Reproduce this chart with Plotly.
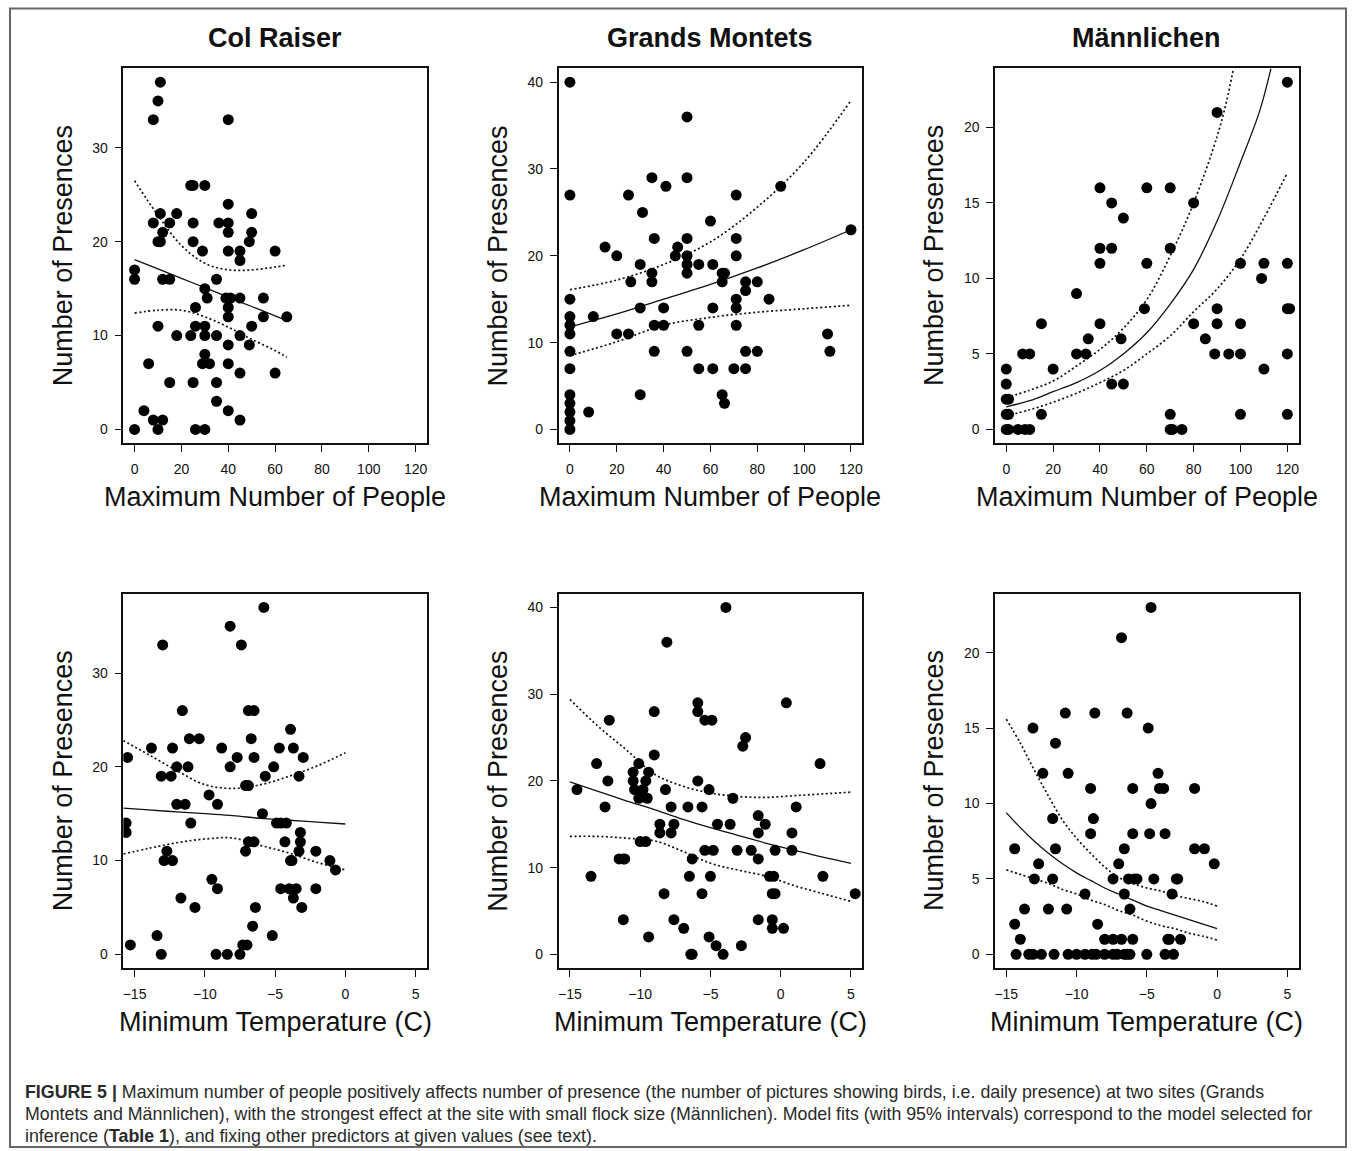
import plotly.graph_objects as go

W, H = 1355, 1151

# ---------------- data ----------------
sites = ["Col Raiser", "Grands Montets", "Männlichen"]
x_label_top = "Maximum Number of People"
x_label_bottom = "Minimum Temperature (C)"
y_label = "Number of Presences"

people_ticks = [0, 20, 40, 60, 80, 100, 120]
temp_ticks = [-15, -10, -5, 0, 5]
cr_yticks = [0, 10, 20, 30]
gm_yticks = [0, 10, 20, 30, 40]
ma_yticks = [0, 5, 10, 15, 20]

# Col Raiser ~ people
cr_people_x = [0, 0, 0, 4, 6, 8, 10, 11, 8, 11,
               10, 11, 12, 15, 18, 10, 8, 12, 10, 12,
               15, 15, 18, 24, 25, 30, 25, 25, 29, 30,
               31, 26, 26, 30, 24, 30, 35, 30, 29, 32,
               25, 35, 35, 26, 30, 35, 36, 40, 40, 40,
               40, 40, 39, 41, 40, 40, 40, 40, 40, 45,
               45, 45, 45, 45, 45, 50, 50, 49, 50, 49,
               55, 55, 60, 60, 65]
cr_people_y = [0, 17, 16, 2, 7, 33, 35, 37, 22, 23,
               20, 20, 21, 22, 23, 11, 1, 1, 0, 16,
               16, 5, 10, 26, 26, 26, 22, 20, 19, 15,
               14, 13, 11, 11, 10, 10, 10, 8, 7, 7,
               5, 5, 3, 0, 0, 16, 22, 33, 24, 22,
               21, 19, 14, 14, 13, 12, 9, 7, 2, 19,
               18, 14, 10, 6, 1, 23, 21, 20, 11, 9,
               14, 12, 19, 6, 12]
cr_people_fit_x = [0, 10, 20, 30, 40, 50, 60, 65]
cr_people_fit = [18.1, 17.1, 16.1, 15.1, 14.1, 13.1, 12.1, 11.6]
cr_people_hi = [26.5, 22.8, 19.6, 17.7, 17.0, 17.0, 17.3, 17.5]
cr_people_lo = [12.4, 12.7, 12.7, 12.0, 10.9, 9.6, 8.4, 7.7]

# Grands Montets ~ people
gm_people_x = [0, 0, 0, 0, 0, 0, 0, 0, 0, 0,
               0, 0, 0, 8, 10, 15, 20, 20, 25, 25,
               26, 30, 31, 30, 30, 35, 36, 35, 35, 36,
               36, 41, 40, 40, 46, 45, 50, 50, 50, 50,
               50, 50, 50, 55, 55, 55, 60, 61, 61, 61,
               65, 66, 65, 65, 66, 71, 71, 71, 71, 71,
               71, 70, 75, 75, 75, 75, 80, 80, 85, 90,
               110, 111, 120]
gm_people_y = [40, 27, 15, 13, 12, 11, 9, 7, 4, 3,
               2, 1, 0, 2, 13, 21, 20, 11, 11, 27,
               17, 14, 25, 19, 4, 29, 22, 18, 17, 12,
               9, 28, 14, 12, 21, 20, 36, 29, 22, 20,
               19, 18, 9, 19, 12, 7, 24, 19, 14, 7,
               18, 18, 17, 4, 3, 27, 22, 20, 15, 14,
               12, 7, 17, 16, 9, 7, 17, 9, 15, 28,
               11, 9, 23]
gm_people_fit_x = [0, 20, 40, 60, 80, 100, 120]
gm_people_fit = [11.8, 13.3, 15.0, 16.7, 18.6, 20.7, 23.0]
gm_people_hi = [16.1, 17.2, 19.0, 21.6, 25.6, 30.8, 37.9]
gm_people_lo = [8.5, 10.1, 12.0, 12.9, 13.5, 13.9, 14.3]

# Männlichen ~ people
ma_people_x = [0, 1, 0, 1, 0, 1, 0, 0, 5, 8,
               10, 7, 10, 15, 15, 20, 30, 30, 35, 34,
               40, 40, 40, 40, 45, 45, 45, 50, 49, 50,
               60, 60, 59, 70, 70, 70, 70, 71, 75, 80,
               80, 85, 90, 90, 90, 89, 95, 100, 100, 100,
               100, 110, 109, 110, 120, 120, 120, 121, 120, 120]
ma_people_y = [0, 0, 1, 1, 2, 2, 3, 4, 0, 0,
               0, 5, 5, 1, 7, 4, 9, 5, 6, 5,
               16, 12, 11, 7, 15, 12, 3, 14, 6, 3,
               16, 11, 8, 16, 12, 1, 0, 0, 0, 15,
               7, 6, 21, 8, 7, 5, 5, 11, 7, 5,
               1, 11, 10, 4, 23, 11, 8, 8, 5, 1]
ma_people_fit_x = [0, 10, 20, 30, 40, 50, 60, 70, 80, 90, 100, 108, 113]
ma_people_fit = [1.5, 1.9, 2.5, 3.1, 3.9, 5.0, 6.4, 8.3, 10.6, 13.8, 17.7, 21.0, 23.9]
ma_people_hi_x = [0, 10, 20, 30, 40, 50, 60, 70, 80, 90, 94, 97]
ma_people_hi = [2.1, 2.6, 3.2, 4.2, 5.3, 6.7, 8.6, 11.5, 15.0, 19.4, 21.7, 23.9]
ma_people_lo_x = [0, 10, 20, 30, 40, 50, 60, 70, 80, 90, 100, 110, 120]
ma_people_lo = [0.9, 1.3, 1.8, 2.4, 3.1, 3.9, 5.0, 6.2, 7.8, 9.3, 11.3, 14.0, 17.0]

# Col Raiser ~ temperature
cr_temp_x = [-15.5, -15.6, -15.6, -15.3, -13.8, -13.4, -13.1, -13.0, -13.1, -12.4,
             -12.7, -12.9, -12.3, -12.3, -12.0, -12.0, -11.4, -11.7, -11.6, -11.1,
             -11.2, -11.0, -10.7, -10.4, -9.7, -9.5, -9.1, -9.1, -9.2, -8.8,
             -8.4, -8.2, -8.2, -7.7, -7.4, -7.5, -7.3, -7.0, -7.1, -6.9,
             -7.1, -6.9, -6.5, -6.9, -6.5, -6.7, -6.5, -6.6, -6.4, -5.8,
             -5.9, -5.7, -5.2, -5.1, -4.7, -4.9, -4.6, -4.2, -4.6, -4.0,
             -3.5, -4.3, -3.9, -3.9, -3.8, -3.7, -3.7, -3.3, -3.3, -3.2,
             -3.2, -3.1, -3.0, -2.1, -2.1, -1.1, -0.7]
cr_temp_y = [21, 14, 13, 1, 22, 2, 0, 33, 19, 19,
             11, 10, 10, 22, 20, 16, 16, 6, 26, 23,
             20, 14, 5, 23, 17, 8, 16, 7, 0, 22,
             0, 35, 20, 21, 33, 0, 1, 1, 18, 18,
             11, 12, 12, 26, 26, 23, 21, 3, 5, 37,
             15, 19, 2, 20, 22, 14, 14, 14, 7, 7,
             7, 12, 24, 10, 10, 22, 6, 19, 11, 13,
             12, 5, 21, 11, 7, 10, 9]
cr_temp_fit_x = [-15.8, -14, -12, -10, -8, -6, -4, -2, 0]
cr_temp_fit = [15.6, 15.4, 15.2, 15.0, 14.8, 14.5, 14.3, 14.1, 13.9]
cr_temp_hi = [22.8, 21.3, 19.6, 18.1, 17.7, 18.1, 19.0, 20.1, 21.5]
cr_temp_lo = [10.7, 11.3, 11.9, 12.3, 12.4, 11.6, 10.8, 9.8, 9.0]

# Grands Montets ~ temperature
gm_temp_x = [-14.5, -13.5, -13.1, -12.5, -12.3, -12.2, -11.5, -11.2, -11.1, -11.2,
             -10.5, -10.5, -10.4, -9.8, -10.1, -10.1, -9.5, -10.0, -9.6, -9.6,
             -9.4, -9.4, -9.0, -9.0, -8.6, -8.6, -8.3, -8.2, -8.1, -7.8,
             -7.8, -7.6, -7.6, -6.9, -6.6, -6.5, -6.3, -6.4, -6.3, -5.9,
             -5.9, -5.9, -5.6, -5.6, -5.4, -5.4, -4.9, -5.1, -5.1, -5.0,
             -4.8, -4.6, -4.5, -4.1, -3.9, -3.6, -3.4, -3.1, -2.8, -2.7,
             -2.5, -2.1, -1.6, -1.6, -1.6, -1.6, -1.1, -0.8, -0.5, -0.6,
             -0.4, -0.6, -0.6, -0.4, 0.2, 0.4, 0.8, 0.8, 1.1, 2.8,
             3.0, 5.3]
gm_temp_y = [19, 9, 22, 17, 20, 27, 11, 11, 11, 4,
             21, 20, 19, 19, 22, 18, 18, 13, 13, 20,
             21, 2, 23, 28, 15, 14, 7, 19, 36, 14,
             17, 15, 4, 3, 17, 9, 11, 0, 0, 29,
             28, 20, 7, 17, 12, 27, 27, 19, 2, 9,
             12, 1, 15, 0, 40, 15, 18, 12, 1, 24,
             25, 12, 16, 14, 11, 4, 15, 9, 9, 7,
             7, 4, 3, 12, 3, 29, 12, 14, 17, 22,
             9, 7]
gm_temp_fit_x = [-15, -13, -11, -9, -7, -5, -3, -1, 1, 3, 5]
gm_temp_fit = [19.9, 18.8, 17.7, 16.7, 15.6, 14.6, 13.7, 12.8, 12.0, 11.2, 10.5]
gm_temp_hi = [29.4, 26.3, 23.6, 20.8, 19.4, 18.6, 18.2, 18.1, 18.3, 18.5, 18.7]
gm_temp_lo = [13.6, 13.6, 13.4, 13.1, 11.9, 10.5, 9.7, 9.0, 7.9, 7.0, 6.1]

# Männlichen ~ temperature
ma_temp_x = [-14.4, -14.4, -14.3, -14.0, -13.7, -13.4, -13.1, -13.1, -13.0, -12.7,
             -12.5, -12.4, -12.0, -11.7, -11.7, -11.6, -11.5, -11.5, -10.8, -10.6,
             -10.7, -10.6, -10.0, -9.4, -9.4, -8.9, -8.6, -9.0, -9.0, -8.8,
             -8.7, -8.5, -8.0, -8.0, -7.4, -7.4, -7.4, -7.1, -7.0, -6.8,
             -6.8, -6.6, -6.4, -6.2, -6.6, -6.6, -6.4, -6.2, -6.3, -5.9,
             -5.7, -6.0, -6.0, -6.0, -5.0, -4.9, -4.8, -4.7, -4.7, -4.5,
             -4.2, -4.1, -3.8, -3.7, -3.7, -3.5, -3.4, -3.2, -3.1, -2.9,
             -2.8, -2.6, -1.6, -1.6, -0.9, -0.2]
ma_temp_y = [2, 7, 0, 1, 3, 0, 0, 15, 5, 6,
             0, 12, 3, 9, 5, 0, 14, 7, 16, 12,
             3, 0, 0, 4, 0, 0, 0, 8, 11, 9,
             16, 2, 1, 0, 5, 1, 0, 0, 6, 1,
             21, 0, 0, 0, 7, 4, 16, 3, 5, 5,
             5, 11, 8, 1, 0, 15, 8, 23, 10, 5,
             12, 11, 11, 8, 0, 1, 1, 4, 0, 5,
             5, 1, 11, 7, 7, 6]
ma_temp_fit_x = [-15, -14, -13, -12, -11, -10, -9, -8, -7, -6, -5, -4, -3, -2, -1, 0]
ma_temp_fit = [9.4, 8.4, 7.5, 6.7, 6.0, 5.4, 4.9, 4.4, 4.0, 3.6, 3.2, 2.9, 2.6, 2.3, 2.0, 1.7]
ma_temp_hi = [15.6, 14.0, 12.2, 10.5, 8.9, 7.7, 6.7, 5.8, 5.1, 4.7, 4.4, 4.2, 3.9, 3.7, 3.5, 3.2]
ma_temp_lo = [5.6, 5.3, 5.0, 4.7, 4.3, 4.0, 3.6, 3.3, 2.9, 2.6, 2.2, 1.9, 1.7, 1.4, 1.2, 0.95]

caption_lines = [
    "<b>FIGURE 5 |</b> Maximum number of people positively affects number of presence (the number of pictures showing birds, i.e. daily presence) at two sites (Grands",
    "Montets and Männlichen), with the strongest effect at the site with small flock size (Männlichen). Model fits (with 95% intervals) correspond to the model selected for",
    "inference (<b>Table 1</b>), and fixing other predictors at given values (see text).",
]

# ---------------- layout geometry (pixels) ----------------
col_px = [(122.5, 426.5), (558.5, 862.5), (995.5, 1299.5)]
row_px = [(68.3, 443.3), (593.6, 968.2)]

FONT = "Liberation Sans, Arial, sans-serif"

panels = [
    (0, 0, cr_people_x, cr_people_y,
     [(cr_people_fit_x, cr_people_fit, "solid"), (cr_people_fit_x, cr_people_hi, "dot"), (cr_people_fit_x, cr_people_lo, "dot")],
     [-1.48, 38.48], cr_yticks, [-4.8, 124.8], people_ticks),
    (0, 1, gm_people_x, gm_people_y,
     [(gm_people_fit_x, gm_people_fit, "solid"), (gm_people_fit_x, gm_people_hi, "dot"), (gm_people_fit_x, gm_people_lo, "dot")],
     [-1.6, 41.6], gm_yticks, [-4.8, 124.8], people_ticks),
    (0, 2, ma_people_x, ma_people_y,
     [(ma_people_fit_x, ma_people_fit, "solid"), (ma_people_hi_x, ma_people_hi, "dot"), (ma_people_lo_x, ma_people_lo, "dot")],
     [-0.92, 23.92], ma_yticks, [-4.8, 124.8], people_ticks),
    (1, 0, cr_temp_x, cr_temp_y,
     [(cr_temp_fit_x, cr_temp_fit, "solid"), (cr_temp_fit_x, cr_temp_hi, "dot"), (cr_temp_fit_x, cr_temp_lo, "dot")],
     [-1.48, 38.48], cr_yticks, [-15.8, 5.8], temp_ticks),
    (1, 1, gm_temp_x, gm_temp_y,
     [(gm_temp_fit_x, gm_temp_fit, "solid"), (gm_temp_fit_x, gm_temp_hi, "dot"), (gm_temp_fit_x, gm_temp_lo, "dot")],
     [-1.6, 41.6], gm_yticks, [-15.8, 5.8], temp_ticks),
    (1, 2, ma_temp_x, ma_temp_y,
     [(ma_temp_fit_x, ma_temp_fit, "solid"), (ma_temp_fit_x, ma_temp_hi, "dot"), (ma_temp_fit_x, ma_temp_lo, "dot")],
     [-0.92, 23.92], ma_yticks, [-15.8, 5.8], temp_ticks),
]

fig = go.Figure()
layout = dict(
    width=W, height=H,
    margin=dict(l=0, r=0, t=0, b=0),
    paper_bgcolor="white", plot_bgcolor="white",
    showlegend=False,
    font=dict(family=FONT, color="#111"),
)

annotations = []
for i, (r, c, px, py, lines, yr, yt, xr, xt) in enumerate(panels):
    k = i + 1
    xa = "x" if k == 1 else f"x{k}"
    ya = "y" if k == 1 else f"y{k}"
    x0, x1 = col_px[c]
    y0, y1 = row_px[r]
    common = dict(showgrid=False, zeroline=False, showline=True, mirror=True,
                  linecolor="#111", linewidth=1.5, ticks="outside", ticklen=7,
                  tickwidth=1.3, tickcolor="#111",
                  tickfont=dict(family=FONT, size=14, color="#111"))
    layout["xaxis" if k == 1 else f"xaxis{k}"] = dict(
        domain=[x0 / W, x1 / W], anchor=ya, range=xr, tickvals=xt,
        ticklabelstandoff=5, **common)
    layout["yaxis" if k == 1 else f"yaxis{k}"] = dict(
        domain=[1 - y1 / H, 1 - y0 / H], anchor=xa, range=yr, tickvals=yt,
        ticklabelstandoff=4, **common)
    for lx, ly, dash in lines:
        fig.add_trace(go.Scatter(
            x=lx, y=ly, xaxis=xa, yaxis=ya, mode="lines",
            line=dict(color="#111", width=1.3 if dash == "solid" else 1.7,
                      dash="solid" if dash == "solid" else "2px,2.5px",
                      shape="spline"),
            hoverinfo="skip"))
    fig.add_trace(go.Scatter(
        x=px, y=py, xaxis=xa, yaxis=ya, mode="markers",
        marker=dict(color="black", size=11, line=dict(width=0)),
        cliponaxis=True))
    cx = (x0 + x1) / 2
    annotations.append(dict(
        x=cx / W, y=1 - (497 if r == 0 else 1022) / H, xref="paper", yref="paper",
        text=x_label_top if r == 0 else x_label_bottom, showarrow=False,
        xanchor="center", yanchor="middle", font=dict(family=FONT, size=27, color="#111")))
    annotations.append(dict(
        x=(x0 - 61) / W, y=1 - ((y0 + y1) / 2) / H, xref="paper", yref="paper",
        text=y_label, showarrow=False, textangle=-90,
        xanchor="center", yanchor="middle", font=dict(family=FONT, size=27, color="#111")))
    if r == 0:
        annotations.append(dict(
            x=cx / W, y=1 - 38 / H, xref="paper", yref="paper",
            text=f"<b>{sites[c]}</b>", showarrow=False,
            xanchor="center", yanchor="middle", font=dict(family=FONT, size=27, color="#111")))

for j, line in enumerate(caption_lines):
    annotations.append(dict(
        x=22 / W, y=1 - (1092 + 22 * j) / H, xref="paper", yref="paper",
        text=line, showarrow=False, xanchor="left", yanchor="middle",
        font=dict(family=FONT, size=17.8, color="#2a2a2a")))

layout["annotations"] = annotations
layout["shapes"] = [dict(type="rect", xref="paper", yref="paper",
                         x0=9 / W, x1=1347 / W, y0=1 - 1147 / H, y1=1 - 8.5 / H,
                         line=dict(color="#666", width=2), fillcolor="rgba(0,0,0,0)")]
fig.update_layout(**layout)
fig.write_html("out.html", config={"displayModeBar": False},
               post_script="document.body.style.margin='0';document.body.style.overflow='hidden';")
